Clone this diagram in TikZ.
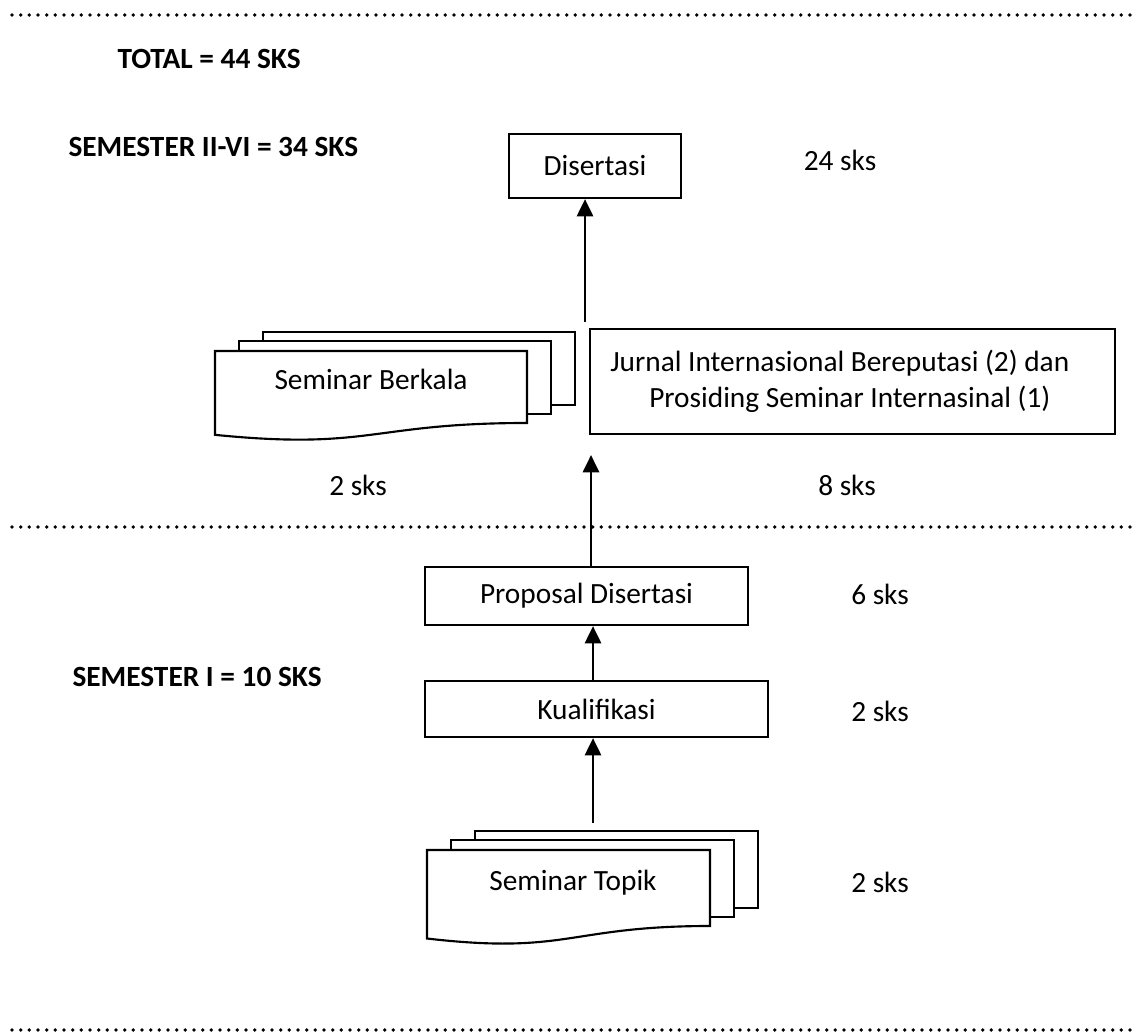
\documentclass[tikz,border=0pt]{standalone}
\usepackage{fontspec}
\setmainfont{Carlito}
\usetikzlibrary{arrows.meta}

\tikzset{
    box/.style={draw, line width=0.8pt, inner sep=0pt},
    page/.style={draw, fill=white, line width=0.8pt},
    arr/.style={-{Triangle[width=6pt,length=6.5pt]}, line width=1.1pt},
    sepline/.style={line width=1.4pt, line cap=round, dash pattern=on 0pt off 3.25pt},
    lbl/.style={anchor=base, inner sep=0pt},
    head/.style={anchor=base west, inner sep=0pt, font=\fontsize{11}{13}\selectfont\bfseries},
}
% stack of three pages: left x, right x, top y, right bottom y of the front page
\newcommand\PageStack[4]{%
    \draw[page] (#1+48,#3-19) rectangle (#2+48,#4-18);
    \draw[page] (#1+24,#3-10) rectangle (#2+24,#4-9);
    \draw[page] (#1,#3) -- (#2,#3) -- (#2,#4)
        .. controls ({(#1+#2)/2},#4) and ({(#1+#2)/2},{#3+1.381*(#4-#3)}) ..
        (#1,{#3+1.1646*(#4-#3)}) -- cycle;
}

\begin{document}
\begin{tikzpicture}[x=0.375pt, y=-0.375pt, font=\fontsize{11}{13.4}\selectfont]
    \useasboundingbox (0,0) rectangle (1137,1032);
    \draw[sepline] (12,15) -- (1137,15);
    \draw[sepline] (12,527) -- (1137,527);
    \draw[sepline] (12,1030) -- (1137,1030);

    \node[head] (total) at (117,68.5) {TOTAL = 44 SKS};
    \node[head] (semUp) at (68,157) {SEMESTER II-VI = 34 SKS};
    \node[head] (semLow) at (72,686) {SEMESTER I = 10 SKS};

    % semester II-VI
    \node[box, minimum width=64.5pt, minimum height=24pt] (dis) at (595,166) {Disertasi};
    \node[lbl] (disSks) at (840,171) {24 sks};
    \node[box, minimum width=196.9pt, minimum height=39.4pt, align=left] (jurnal) at (852.5,381.5)
          {Jurnal Internasional Bereputasi (2) dan\hspace*{9.5pt}\\\hspace*{14.6pt}Prosiding Seminar Internasinal (1)};
    \PageStack{215}{527}{351}{423}
    \node[lbl] (berkala) at (371,390) {Seminar Berkala};
    \node[lbl] (berkSks) at (358,496) {2 sks};
    \node[lbl] (jurnalSks) at (847,496) {8 sks};
    \coordinate (berkTop) at (585,322);
    \draw[arr] (berkTop) -- (dis.south -| berkTop);

    % semester I
    \node[box, minimum width=121.1pt, minimum height=21.75pt] (prop) at (586.5,596) {Proposal Disertasi};
    \node[box, minimum width=128.6pt, minimum height=21pt] (kual) at (596.5,709) {Kualifikasi};
    \PageStack{427}{710}{850}{926}
    \node[lbl] (topik) at (573,890) {Seminar Topik};
    \node[lbl] (propSks) at (880,604) {6 sks};
    \node[lbl] (kualSks) at (880,721) {2 sks};
    \node[lbl] (topikSks) at (880,892) {2 sks};
    \coordinate (propUp) at (591,455);
    \coordinate (topikTop) at (593,823);
    \draw[arr] (prop.north -| propUp) -- (propUp);
    \draw[arr] (kual.north -| topikTop) -- (prop.south -| topikTop);
    \draw[arr] (topikTop) -- (kual.south -| topikTop);
\end{tikzpicture}
\end{document}
